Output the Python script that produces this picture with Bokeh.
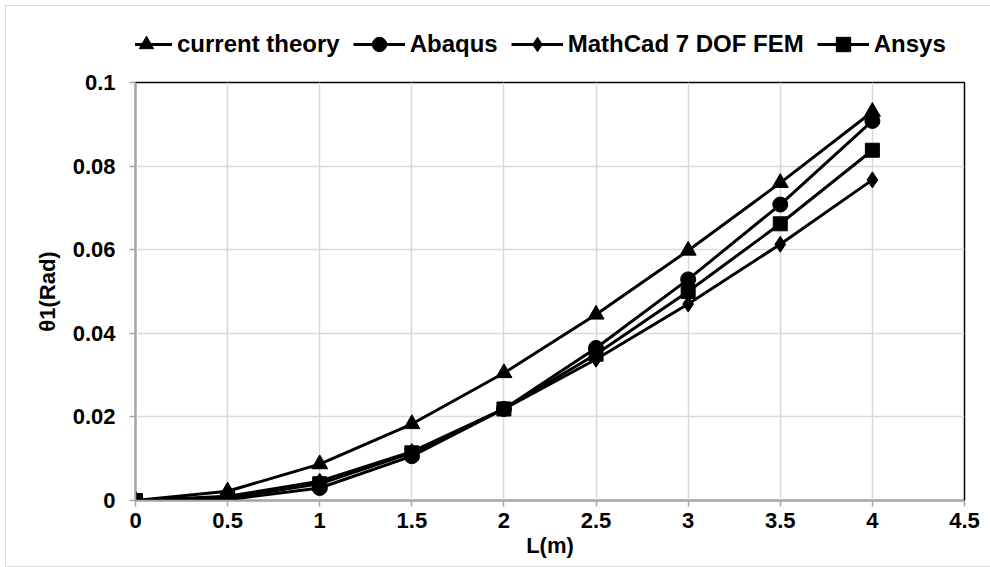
from bokeh.plotting import figure
from bokeh.models import FixedTicker, Legend, LegendItem, Range1d
from bokeh.layouts import column
from bokeh.embed import file_html
from bokeh.resources import INLINE

# ---- data ----
L = [0, 0.5, 1, 1.5, 2, 2.5, 3, 3.5, 4]
current_theory = [0, 0.0022, 0.0087, 0.0183, 0.0305, 0.0445, 0.0598, 0.0760, 0.0930]
abaqus = [0, 0.0002, 0.0030, 0.0106, 0.0219, 0.0365, 0.0529, 0.0708, 0.0908]
mathcad = [0, 0.0010, 0.0046, 0.0117, 0.0219, 0.0338, 0.0470, 0.0613, 0.0767]
ansys = [0, 0.0006, 0.0040, 0.0114, 0.0219, 0.0350, 0.0500, 0.0662, 0.0838]

x_ticks = [0, 0.5, 1, 1.5, 2, 2.5, 3, 3.5, 4, 4.5]
x_tick_labels = ["0", "0.5", "1", "1.5", "2", "2.5", "3", "3.5", "4", "4.5"]
y_ticks = [0, 0.02, 0.04, 0.06, 0.08, 0.1]
y_tick_labels = ["0", "0.02", "0.04", "0.06", "0.08", "0.1"]

FONT = "Liberation Sans"
FS = "22px"

series = [
    ("current theory", current_theory, "triangle", 16),
    ("Abaqus", abaqus, "circle", 15),
    ("MathCad 7 DOF FEM", mathcad, "diamond", 16),
    ("Ansys", ansys, "square", 14),
]

# ---- main plot ----
p = figure(width=985, height=498, output_backend="svg", toolbar_location=None,
           x_range=Range1d(0, 4.5), y_range=Range1d(0, 0.1),
           min_border_left=129, min_border_right=27, min_border_top=14,
           min_border_bottom=66)

p.outline_line_color = "black"
p.outline_line_width = 1.5

for ax in (p.xaxis[0], p.yaxis[0]):
    ax.axis_line_color = "#a6a6a6"
    ax.axis_line_width = 1.5
    ax.major_tick_line_color = "#a6a6a6"
    ax.major_tick_line_width = 1.5
    ax.major_tick_out = 6
    ax.major_tick_in = 0
    ax.minor_tick_line_color = None
    ax.major_label_text_font = FONT
    ax.major_label_text_font_style = "bold"
    ax.major_label_text_font_size = FS
    ax.major_label_text_color = "black"
    ax.axis_label_text_font = FONT
    ax.axis_label_text_font_style = "bold"
    ax.axis_label_text_font_size = FS
    ax.axis_label_text_color = "black"

p.xaxis.ticker = FixedTicker(ticks=x_ticks)
p.yaxis.ticker = FixedTicker(ticks=y_ticks)
p.xaxis.major_label_overrides = dict(zip(x_ticks, x_tick_labels))
p.yaxis.major_label_overrides = dict(zip(y_ticks, y_tick_labels))
p.xaxis.axis_label = "L(m)"
p.yaxis.axis_label = "θ1(Rad)"
p.xaxis.major_label_standoff = 6
p.yaxis.major_label_standoff = 14
p.xaxis.axis_label_standoff = 2
p.yaxis.axis_label_standoff = 10

p.xgrid.grid_line_color = "#d9d9d9"
p.ygrid.grid_line_color = "#d9d9d9"
p.xgrid.grid_line_width = 1.5
p.ygrid.grid_line_width = 1.5

for name, ys, marker, size in series:
    p.line(L, ys, line_color="black", line_width=3)
    p.scatter(L, ys, marker=marker, size=size, fill_color="black", line_color="black")

# ---- legend strip above the plot (data kept out of view) ----
t = figure(width=985, height=62, output_backend="svg", toolbar_location=None,
           x_range=Range1d(100, 101), y_range=Range1d(100, 101),
           x_axis_location=None, y_axis_location=None, min_border=0)
t.grid.visible = False
t.outline_line_color = None

items = []
for name, ys, marker, size in series:
    r1 = t.line(L, ys, line_color="black", line_width=3)
    r2 = t.scatter(L, ys, marker=marker, size=size, fill_color="black", line_color="black")
    items.append(LegendItem(label=name, renderers=[r1, r2]))

legend = Legend(items=items, orientation="horizontal", location=(-15, 6))
legend.label_text_font = FONT
legend.label_text_font_style = "bold"
legend.label_text_font_size = "24px"
legend.label_text_color = "black"
legend.glyph_width = 52
legend.glyph_height = 36
legend.label_standoff = 5
legend.spacing = 13
legend.padding = 4
legend.margin = 0
legend.border_line_color = None
legend.background_fill_alpha = 0
t.add_layout(legend, "center")

layout = column(t, p, spacing=0, margin=(5, 0, 0, 5),
                styles={"border": "1px solid #d9d9d9"})

open("out.html", "w").write(file_html(layout, INLINE))
